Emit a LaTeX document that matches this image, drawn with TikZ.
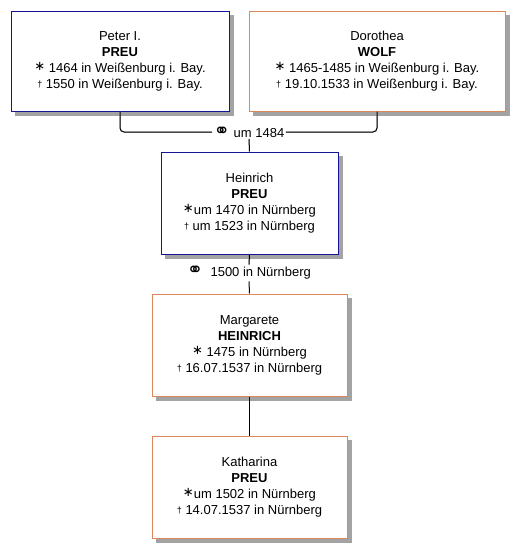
\documentclass[tikz,border=0pt]{standalone}
\usepackage{fontspec}
\setmainfont{Liberation Sans}
\newfontfamily\symfont{DejaVu Sans}
\usetikzlibrary{backgrounds}
\definecolor{manline}{RGB}{20,20,150}
\definecolor{womanline}{RGB}{220,135,90}
\newcommand{\born}{\raisebox{1.5pt}{\symfont ∗}}
\newcommand{\died}{\raisebox{1pt}{\small †}}
\newcommand{\wed}{\scalebox{1.5}{\symfont ⚭}}
\tikzset{
  person/.style={draw, fill=white, line width=1pt, align=center, inner sep=0pt,
    font=\fontsize{13}{16}\selectfont},
  man/.style={person, draw=manline},
  woman/.style={person, draw=womanline},
  boxshadow/.style={fill=black!36},
  wedding/.style={fill=white, inner sep=1.5pt, font=\fontsize{13}{15}\selectfont},
  link/.style={line width=1pt, rounded corners=4pt},
  linkshade/.style={line width=1pt, rounded corners=4pt, draw=black!30}
}
\begin{document}
\begin{tikzpicture}[x=1pt, y=-1pt]
  \useasboundingbox (0,0) rectangle (524,558);
  % parents
  \node[man, minimum width=218pt, minimum height=100pt] (peter) at (120,61)
    {Peter I.\\ \textbf{PREU}\\ \born\ 1464 in Weißenburg i. Bay.\\ \died\ 1550 in Weißenburg i. Bay.};
  \node[woman, minimum width=256pt, minimum height=100pt] (dorothea) at (377,61)
    {Dorothea\\ \textbf{WOLF}\\ \born\ 1465-1485 in Weißenburg i. Bay.\\ \died\ 19.10.1533 in Weißenburg i. Bay.};
  \node[wedding] (wed1) at (249,132) {\wed\ um 1484};
  % children
  \node[man, minimum width=177pt, minimum height=102pt] (heinrich) at (249.5,203)
    {Heinrich\\ \textbf{PREU}\\ \born um 1470 in Nürnberg\\ \died\ um 1523 in Nürnberg};
  \node[wedding] (wed2) at (249,273) {\wed\ \ 1500 in Nürnberg};
  \node[woman, minimum width=195pt, minimum height=102pt] (margarete) at (249.5,345)
    {Margarete\\ \textbf{HEINRICH}\\ \born\ 1475 in Nürnberg\\ \died\ 16.07.1537 in Nürnberg};
  \node[woman, minimum width=195pt, minimum height=102pt] (katharina) at (249.5,487)
    {Katharina\\ \textbf{PREU}\\ \born um 1502 in Nürnberg\\ \died\ 14.07.1537 in Nürnberg};
  % shadows behind the boxes
  \begin{scope}[on background layer]
    \fill[white] (0,0) rectangle (524,558);
    \foreach \who in {peter,dorothea,heinrich,margarete,katharina}
      \fill[boxshadow] ([shift={(4,4)}]\who.north west)
        rectangle ([shift={(4,4)}]\who.south east);
  \end{scope}
  % connectors
  \draw[linkshade, shift={(2,2)}] (peter.south) |- (wed1.west);
  \draw[linkshade, shift={(2,2)}] (dorothea.south) |- (wed1.east);
  \draw[link] (peter.south) |- (wed1.west);
  \draw[link] (dorothea.south) |- (wed1.east);
  \draw[linkshade, shift={(2,0)}] (wed1.south) -- (heinrich.north);
  \draw[link] (wed1.south) -- (heinrich.north);
  \draw[linkshade, shift={(2,0)}] (heinrich.south) -- (wed2.north);
  \draw[link] (heinrich.south) -- (wed2.north);
  \draw[link] (wed2.south) -- (margarete.north);
  \draw[linkshade, shift={(2,0)}] (margarete.south) -- (katharina.north);
  \draw[link] (margarete.south) -- (katharina.north);
\end{tikzpicture}
\end{document}
